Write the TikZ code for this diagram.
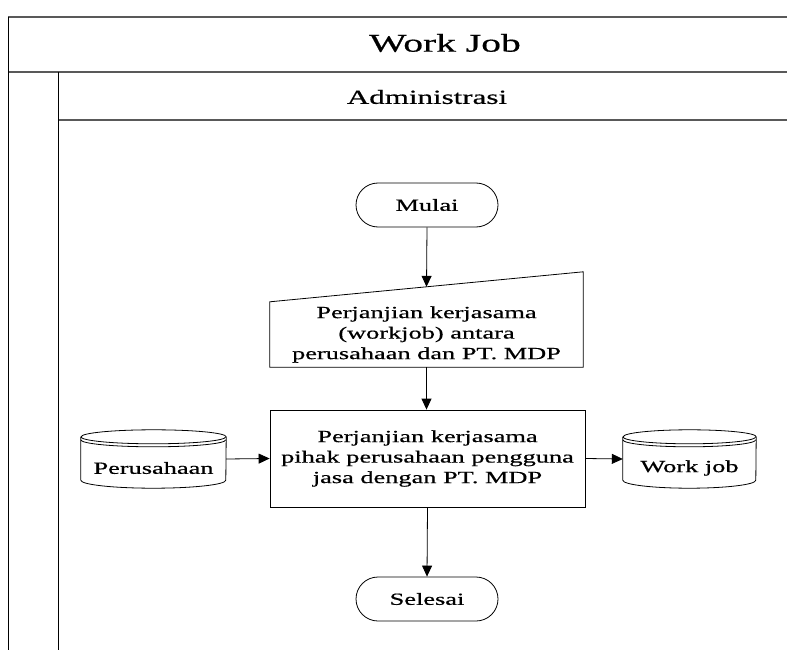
\documentclass[tikz,border=0pt]{standalone}
\usepackage{fontspec}
\setmainfont{Liberation Serif}[FakeStretch=1.55, FakeBold=0.6]
\usetikzlibrary{arrows.meta,shapes.misc,calc}

\tikzset{
  frameline/.style={line width=1pt, draw=black},
  sepline/.style={line width=1.3pt, draw=black!65},
  nodetext/.style={font=\fontsize{17}{20.5}\selectfont, align=center, inner sep=0pt},
  terminal/.style={nodetext, draw, line width=0.8pt, rounded rectangle,
    minimum width=142pt, minimum height=44pt},
  procbox/.style={nodetext, draw, line width=0.8pt, rectangle,
    minimum width=315pt, minimum height=97pt},
  inputbody/.style={nodetext, rectangle, minimum width=313pt, minimum height=65pt},
  dbbody/.style={rectangle, inner sep=0pt, minimum height=58pt},
  flow/.style={line width=0.8pt, -{Triangle[length=11pt,width=10pt]}},
  dbline/.style={line width=0.8pt}
}

% cylinder outline around a named node: #1 node name, #2 half width
\newcommand{\dbshape}[2]{%
  \draw[dbline] ([yshift=-7pt]#1.north west)
      -- ([yshift=8pt]#1.south west)
      arc[start angle=180, end angle=360, x radius=#2, y radius=8pt]
      -- ([yshift=-7pt]#1.north east)
      arc[start angle=0, end angle=180, x radius=#2, y radius=7pt];
  \draw[dbline] ([yshift=-7pt]#1.north west)
      arc[start angle=180, end angle=360, x radius=#2, y radius=7pt];
  \draw[dbline] ([yshift=-10pt]#1.north west)
      arc[start angle=180, end angle=360, x radius=#2, y radius=7pt];
}

\begin{document}
\begin{tikzpicture}[x=1pt,y=1pt]
  \useasboundingbox (0,0) rectangle (787,-650);
  \fill[white] (0,0) rectangle (787,-650);

  % swimlane frame
  \draw[sepline] (8,-17) -- (787,-17);
  \draw[sepline] (8,-72) -- (787,-72);
  \draw[sepline] (58,-120) -- (787,-120);
  \draw[frameline] (8,-17) -- (8,-650);
  \draw[frameline] (58,-72) -- (58,-650);

  \node[font=\fontsize{25.5}{28}\selectfont, inner sep=0pt] (title) at (445,-43) {Work Job};
  \node[font=\fontsize{20}{24}\selectfont, inner sep=0pt] (lane) at (427,-97) {Administrasi};

  % flow nodes
  \node[terminal] (mulai) at (427,-205) {Mulai};

  \node[inputbody] (kontrak) at (426.5,-334.5)
    {Perjanjian kerjasama\\(workjob) antara\\perusahaan dan PT. MDP};
  \draw[line width=0.8pt] (kontrak.north west) -- ([yshift=30pt]kontrak.north east)
    -- (kontrak.south east) -- (kontrak.south west) -- cycle;
  \coordinate (kontraktop) at ([yshift=15pt]kontrak.north);

  \node[procbox] (proses) at (427.5,-458.5)
    {Perjanjian kerjasama\\pihak perusahaan pengguna\\jasa dengan PT. MDP};

  \node[dbbody, minimum width=145pt] (perusahaan) at (153.5,-459) {};
  \dbshape{perusahaan}{72.5pt}
  \node[nodetext] (perusahaantext) at ([yshift=-9pt]perusahaan.center) {Perusahaan};

  \node[dbbody, minimum width=133pt] (workjob) at (689.5,-459) {};
  \dbshape{workjob}{66.5pt}
  \node[nodetext] (workjobtext) at ([yshift=-9pt]workjob.center) {Work job};

  \node[terminal] (selesai) at (427,-599) {Selesai};

  % connectors
  \draw[flow] (mulai.south) -- (kontraktop);
  \draw[flow] (kontrak.south) -- (kontrak.south |- proses.north);
  \draw[flow] (perusahaan.east) -- (proses.west);
  \draw[flow] (proses.east) -- (workjob.west);
  \draw[flow] (proses.south) -- (selesai.north);
\end{tikzpicture}
\end{document}
